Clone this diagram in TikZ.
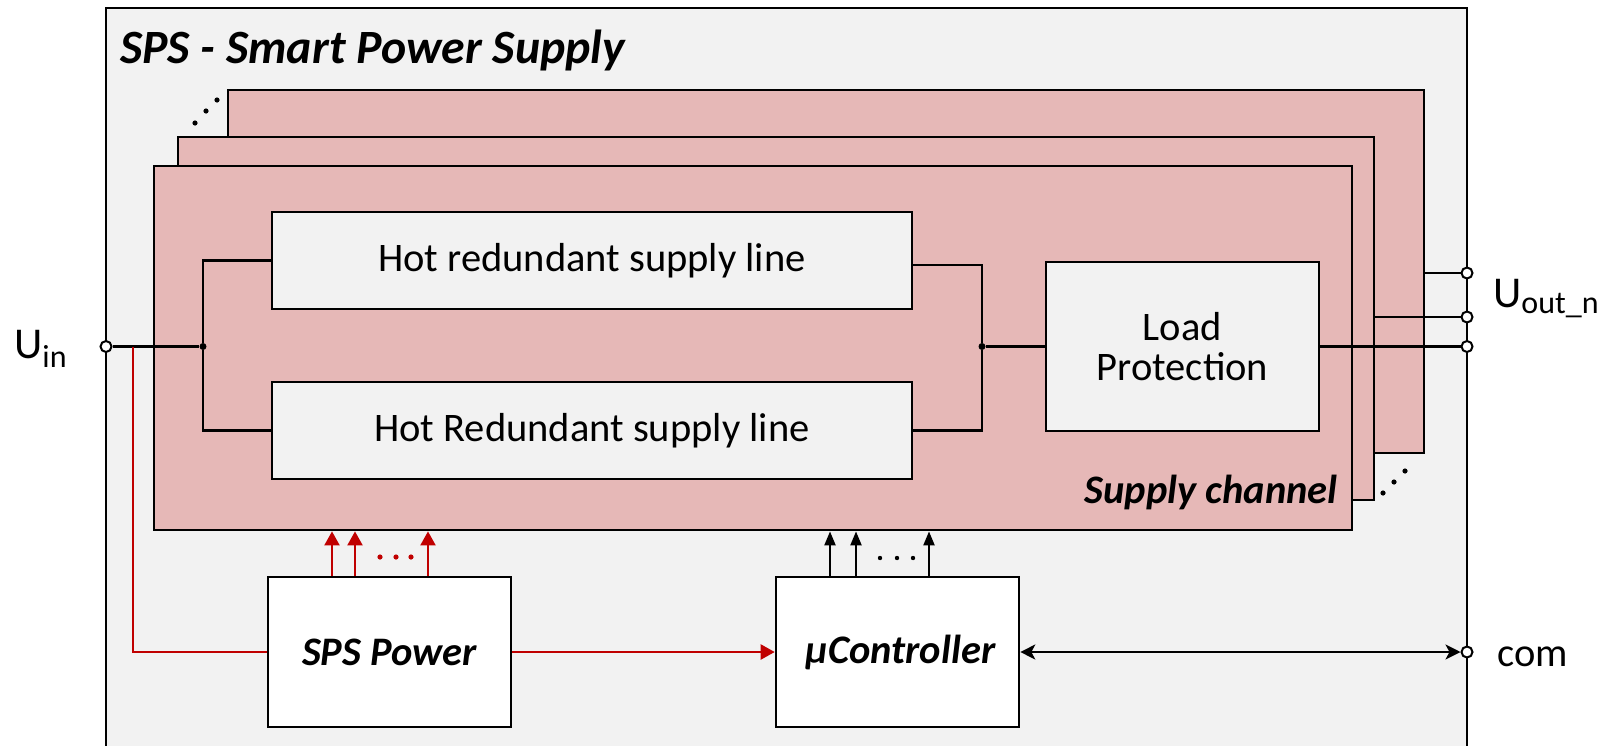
\documentclass[tikz,border=0pt]{standalone}
\usepackage{fontspec}
\setmainfont{Carlito}
\usetikzlibrary{arrows.meta}

\definecolor{panel}{HTML}{F2F2F2}
\definecolor{chan}{HTML}{E6B8B7}
\definecolor{pwr}{HTML}{C00000}

\newcommand{\txt}{\fontsize{40.5}{40}\selectfont}
\newcommand{\subtxt}{\fontsize{32}{32}\selectfont}

\begin{document}
\begin{tikzpicture}[x=1pt,y=-1pt,
  outerbox/.style={draw, line width=2.8pt, fill=panel},
  chanbox/.style={draw, line width=2.8pt, fill=chan},
  blk/.style={draw, line width=2.6pt, fill=panel, inner sep=0pt, font=\txt, align=center},
  wblk/.style={draw, line width=2.6pt, fill=white, inner sep=0pt, font=\txt\bfseries\itshape},
  wire/.style={line width=2.2pt},
  pwrwire/.style={line width=2.2pt, draw=pwr},
  pwrarrow/.style={line width=2.2pt, draw=pwr, -{Triangle[width=15pt,length=14pt]}, color=pwr},
  ctlarrow/.style={line width=2.2pt, -{Triangle[width=11pt,length=14pt]}},
  comarrow/.style={line width=2.2pt, {Stealth[width=15pt,length=15pt,inset=4pt]}-{Stealth[width=15pt,length=15pt,inset=4pt]}},
  term/.style={circle, draw, fill=white, line width=2pt, minimum size=11pt, inner sep=0pt},
  jdot/.style={circle, fill=black, minimum size=7pt, inner sep=0pt},
  lbl/.style={inner sep=0pt, font=\txt}
]
\useasboundingbox (0,0) rectangle (1601,745);
\fill[white] (0,0) rectangle (1601,745);
\clip (0,0) rectangle (1601,745);

% enclosing unit
\draw[outerbox] (106,8) rectangle (1467,790);
\node[anchor=base west, inner sep=0pt, font=\fontsize{47.8}{48}\selectfont\bfseries\itshape] (title) at (120,63) {SPS - Smart Power Supply};

% stacked supply channels (back to front)
\node[chanbox, minimum width=1196pt, minimum height=363pt, inner sep=0pt] (chanC) at (826,271.5) {};
\node[chanbox, minimum width=1196pt, minimum height=363pt, inner sep=0pt] (chanB) at (776,318.5) {};
\node[chanbox, minimum width=1198pt, minimum height=364pt, inner sep=0pt] (chanA) at (753,348) {};
\node[lbl, anchor=base east, font=\txt\bfseries\itshape] (chanlbl) at (1338,503) {Supply channel};

% ellipsis marks for further channels
\foreach \p in {(195,123),(206,111),(217,100),(1383,493),(1394,482),(1405,471)}
  \fill \p circle (2.6);

% blocks inside the channel
\node[blk, minimum width=640pt, minimum height=97pt] (hot1) at (592,260.5) {Hot redundant supply line};
\node[blk, minimum width=640pt, minimum height=97pt] (hot2) at (592,430.5) {Hot Redundant supply line};
\node[blk, minimum width=273pt, minimum height=169pt] (lp) at (1182.5,346.5) {Load\\Protection};

% support blocks
\node[wblk, minimum width=243pt, minimum height=150pt] (sps) at (389.5,652) {SPS Power};
\node[wblk, minimum width=243pt, minimum height=150pt] (uc) at (897.5,652) {\hspace*{6pt}µController};

% terminals
\node[term] (uin) at (106,346.5) {};
\node[term] (o3) at (1467,273) {};
\node[term] (o2) at (1467,317) {};
\node[term] (o1) at (1467,346.5) {};
\node[term] (com) at (1467,652) {};

\node[lbl, anchor=base west, font=\fontsize{44}{44}\selectfont] (uinlbl) at (14,358) {U\raisebox{-9pt}{\subtxt in}};
\node[lbl, anchor=base west, font=\fontsize{44}{44}\selectfont] (uoutlbl) at (1493,307) {U\raisebox{-6pt}{\subtxt out\_n}};
\node[lbl, anchor=base west] (comlbl) at (1497,666) {com};

% redundant supply paths
\node[jdot] (j1) at (203,346.5) {};
\node[jdot] (j2) at (982,346.5) {};
\coordinate (tap) at (133,346.5);
\draw[wire] (uin) -- (j1);
\draw[wire] (j1) |- (hot1.west);
\draw[wire] (j1) |- (hot2.west);
\draw[wire] ([yshift=-4.5pt]hot1.east) -| (j2);
\draw[wire] (hot2.east) -| (j2);
\draw[wire] (j2) -- (lp.west);
\draw[wire] (lp.east) -- (o1);
\draw[wire] (chanB.east |- o2) -- (o2);
\draw[wire] (chanC.east |- o3) -- (o3);

% power distribution
\draw[pwrwire] (tap) |- (sps.west);
\draw[pwrarrow] (sps) -- (uc);
\foreach \dx in {-57.5,-34.5,38.5}
  \draw[pwrarrow] ([xshift=\dx pt]sps.north) -- ([xshift=\dx pt]sps.north |- chanA.south);
\foreach \x in {380,396,411}
  \fill[pwr] (\x,557) circle (2.6);

% control lines
\foreach \dx in {-67.5,-41.5,31.5}
  \draw[ctlarrow] ([xshift=\dx pt]uc.north) -- ([xshift=\dx pt]uc.north |- chanA.south);
\foreach \x in {880,897,913}
  \fill (\x,558) circle (2.2);

% communication port
\draw[comarrow] (uc.east) -- (com);
\end{tikzpicture}
\end{document}
